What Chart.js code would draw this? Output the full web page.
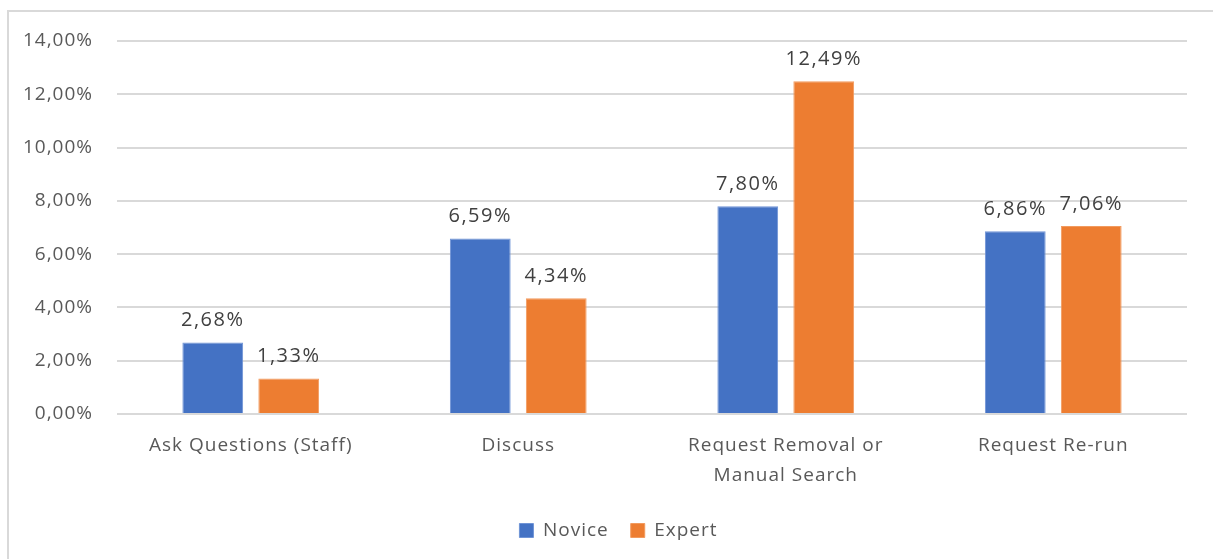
<!DOCTYPE html>
<html>
<head>
<meta charset="utf-8">
<script src="https://cdn.jsdelivr.net/npm/chart.js@4"></script>
<style>
    html, body { margin: 0; padding: 0; background: #fff; }
    #wrap { position: relative; width: 1213px; height: 559px; overflow: hidden; }
    #frame {
        position: absolute; left: 7px; top: 10px; width: 1220px; height: 600px;
        border-left: 2px solid #d9d9d9; border-top: 2px solid #d9d9d9;
        box-sizing: border-box;
    }
    canvas { position: absolute; left: 0; top: 0; }
</style>
</head>
<body>
<div id="wrap">
    <div id="frame"></div>
    <canvas id="actionsChart" width="1213" height="559"></canvas>
</div>
<script>
const categories = [
    'Ask Questions (Staff)',
    'Discuss',
    ['Request Removal or', 'Manual Search'],
    'Request Re-run'
];
const noviceValues = [2.68, 6.59, 7.80, 6.86];
const expertValues = [1.33, 4.34, 12.49, 7.06];
const yTicks = [0, 2, 4, 6, 8, 10, 12, 14];

function pct(v) {
    return v.toFixed(2).replace('.', ',') + '%';
}

// a little tracking on all text, Calibri-style
const spacing = {
    id: 'spacing',
    beforeDraw(chart) {
        chart.ctx.letterSpacing = '1px';
    }
};

// legend sits a bit right of centre
const legendShift = {
    id: 'legendShift',
    afterLayout(chart) {
        chart.legend.left += 19;
        chart.legend.right += 19;
    }
};

// value labels above each bar
const barLabels = {
    id: 'barLabels',
    afterDatasetsDraw(chart) {
        const ctx = chart.ctx;
        ctx.save();
        ctx.font = '20px "Open Sans"';
        ctx.letterSpacing = '1.5px';
        ctx.fillStyle = '#404040';
        ctx.textAlign = 'center';
        ctx.textBaseline = 'middle';
        chart.data.datasets.forEach(function (ds, i) {
            chart.getDatasetMeta(i).data.forEach(function (bar, j) {
                ctx.fillText(pct(ds.data[j]), bar.x, bar.y - 22);
            });
        });
        ctx.restore();
    }
};

document.addEventListener('DOMContentLoaded', function () {
    const ctx = document.getElementById('actionsChart');
    new Chart(ctx, {
        type: 'bar',
        data: {
            labels: categories,
            datasets: [{
                label: 'Novice',
                data: noviceValues,
                backgroundColor: '#4472c4',
                borderColor: '#7094d6',
                borderWidth: 1
            }, {
                label: 'Expert',
                data: expertValues,
                backgroundColor: '#ed7d31',
                borderColor: '#f29a5e',
                borderWidth: 1
            }]
        },
        options: {
            responsive: false,
            animation: false,
            layout: {
                padding: { top: 41, right: 26, bottom: 9, left: 0 }
            },
            categoryPercentage: 0.568,
            barPercentage: 0.8,
            plugins: {
                tooltip: { enabled: false },
                legend: {
                    position: 'bottom',
                    labels: {
                        font: { family: 'Open Sans', size: 19 },
                        color: '#595959',
                        boxWidth: 14,
                        boxHeight: 14,
                        padding: 22
                    }
                }
            },
            scales: {
                x: {
                    grid: { display: false, drawTicks: false },
                    border: { display: false },
                    ticks: {
                        color: '#595959',
                        font: { family: 'Open Sans', size: 19, lineHeight: 1.58 },
                        padding: 17,
                        maxRotation: 0
                    },
                    afterFit: function (scale) { scale.height = 85; }
                },
                y: {
                    min: 0,
                    max: 14,
                    afterBuildTicks: function (scale) {
                        scale.ticks = yTicks.map(function (v) { return { value: v }; });
                    },
                    grid: { color: '#d9d9d9', lineWidth: 2, drawTicks: false },
                    border: { display: false },
                    ticks: {
                        color: '#595959',
                        font: { family: 'Open Sans', size: 19 },
                        padding: 24,
                        callback: function (value) { return pct(value); }
                    },
                    afterFit: function (scale) { scale.width = 117; }
                }
            }
        },
        plugins: [spacing, legendShift, barLabels]
    });
});
</script>
</body>
</html>
